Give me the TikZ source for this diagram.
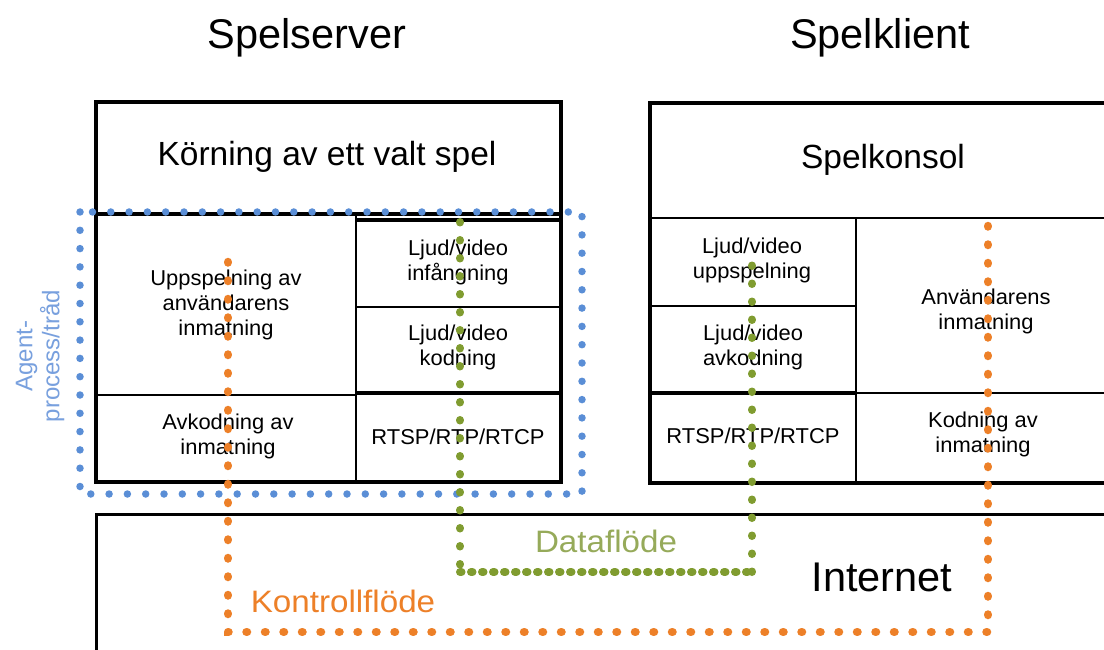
\documentclass[tikz,border=0pt]{standalone}
\usepackage{fontspec}
\setmainfont{Liberation Sans}
\definecolor{agentblue}{RGB}{90,142,214}
\definecolor{agenttext}{RGB}{120,160,222}
\definecolor{ctlorange}{RGB}{237,128,40}
\definecolor{dataolive}{RGB}{128,156,48}
\definecolor{datatext}{RGB}{150,170,90}
\begin{document}
\begin{tikzpicture}[x=1pt,y=-1pt,
  heavy/.style={line width=4pt},
  light/.style={line width=2pt},
  title/.style={font=\fontsize{41.5}{46}\selectfont, inner sep=0},
  big/.style={font=\fontsize{33.5}{38}\selectfont, inner sep=0},
  small/.style={font=\fontsize{21.5}{25}\selectfont, align=center, inner sep=0, xscale=1.02},
  flowlabel/.style={font=\fontsize{31}{35}\selectfont, inner sep=0, xscale=1.07},
  agentdots/.style={agentblue, line width=7.5pt, line cap=round, dash pattern=on 0pt off 18.3pt},
  ctldots/.style={ctlorange, line width=8.5pt, line cap=round, dash pattern=on 0.5pt off 18pt},
  datadots/.style={dataolive, line width=8pt, line cap=round, dash pattern=on 0.5pt off 17.5pt},
  densedata/.style={dataolive, line width=8pt, line cap=round, dash pattern=on 1.5pt off 9.5pt},
]
\useasboundingbox (0,0) rectangle (1104,650);
\fill[white] (0,0) rectangle (1104,650);

% ---------- headings ----------
\node[title] (srvtitle) at (307,38) {Spelserver};
\node[title] (clitle) at (880,38) {Spelklient};

% ---------- game server ----------
\draw[heavy] (96,102) rectangle (561,482);
\draw[heavy] (96,214) -- (561,214);
\draw[light] (356,214) -- (356,482);
\draw[light] (96,395) -- (356,395);
\draw[heavy] (356,220) -- (561,220);
\draw[light] (356,307) -- (561,307);
\draw[heavy] (356,393) -- (561,393);

\node[big] (run) at (327,157) {Körning av ett valt spel};
\node[small] (replay) at (226,305) {Uppspelning av\\användarens\\inmatning};
\node[small] (decin) at (228,436) {Avkodning av\\inmatning};
\node[small] (capture) at (458,262) {Ljud/video\\infångning};
\node[small] (encode) at (458,347) {Ljud/video\\kodning};
\node[small] (srvproto) at (458,437) {RTSP/RTP/RTCP};

% agent process / thread boundary
\draw[agentdots] (80,212) rectangle (582,494);
\node[font=\fontsize{24}{27}\selectfont, align=center, inner sep=0, text=agenttext, rotate=90]
  (agent) at (40,356) {Agent-\\process/tråd};

% ---------- game client ----------
\draw[heavy] (1120,103) -- (650,103) -- (650,483) -- (1120,483);
\draw[light] (650,218) -- (1120,218);
\draw[light] (856,218) -- (856,483);
\draw[light] (650,306) -- (856,306);
\draw[heavy] (650,393) -- (856,393);
\draw[light] (856,393) -- (1120,393);

\node[big] (console) at (883,160) {Spelkonsol};
\node[small] (play) at (752,260) {Ljud/video\\uppspelning};
\node[small] (decode) at (753,347) {Ljud/video\\avkodning};
\node[small] (cliproto) at (753,436) {RTSP/RTP/RTCP};
\node[small] (userin) at (986,311) {Användarens\\inmatning};
\node[small] (encin) at (983,434) {Kodning av\\inmatning};

% ---------- internet ----------
\draw[line width=3pt] (1120,514) -- (96,514) -- (96,660);
\node[title] (net) at (882,577) {Internet};

% ---------- flows ----------
\coordinate (ctlstart) at (228,262);
\coordinate (ctlend) at (988,226);
\coordinate (ctlfloor) at (0,632);
\draw[ctldots] (ctlstart) -- (ctlstart |- ctlfloor) -| (ctlend);
\node[flowlabel, text=ctlorange] (ctllabel) at (343,601) {Kontrollflöde};

\coordinate (datastart) at (460,222);
\coordinate (dataend) at (752,258);
\coordinate (datafloor) at (0,572);
\coordinate (dataleft) at (datastart |- datafloor);
\coordinate (dataright) at (dataend |- datafloor);
\draw[datadots] (datastart) -- (dataleft);
\draw[densedata] (dataleft) -- (dataright);
\draw[datadots] (dataright) -- (dataend);
\node[flowlabel, text=datatext] (datalabel) at (606,541) {Dataflöde};
\end{tikzpicture}
\end{document}
